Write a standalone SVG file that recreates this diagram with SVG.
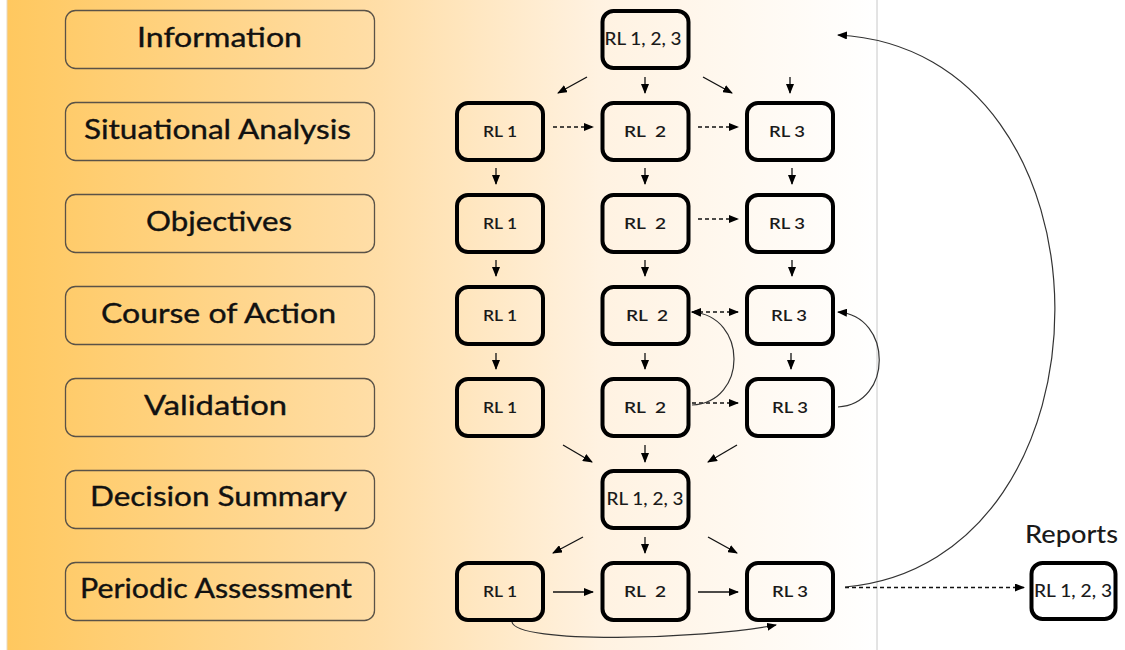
<svg xmlns="http://www.w3.org/2000/svg" width="1125" height="650" viewBox="0 0 1125 650">
<defs>
<linearGradient id="bg" x1="7" y1="0" x2="877" y2="0" gradientUnits="userSpaceOnUse">
<stop offset="0" stop-color="#FFC85F"/>
<stop offset="0.43" stop-color="#FFDEA8"/>
<stop offset="0.68" stop-color="#FFF2E1"/>
<stop offset="1" stop-color="#FFFFFF"/>
</linearGradient>
<marker id="ah" markerUnits="userSpaceOnUse" markerWidth="10" markerHeight="8" refX="9" refY="4" orient="auto">
<path d="M0,0 L10,4 L0,8 z" fill="#000"/>
</marker>
<marker id="ahs" markerUnits="userSpaceOnUse" markerWidth="10" markerHeight="8" refX="1" refY="4" orient="auto">
<path d="M10,0 L0,4 L10,8 z" fill="#000"/>
</marker>
</defs>
<style>
.lbl rect{fill:none;stroke:#5a5247;stroke-width:1.3}
.lbl text{font-family:Lato,"Open Sans",sans-serif;font-size:26px;fill:#111;text-anchor:middle;stroke:#111;stroke-width:0.35}
.rl rect{fill:none;stroke:#000;stroke-width:4}
.rl text{font-family:Lato,"Open Sans",sans-serif;font-size:16px;font-weight:600;fill:#1a1a1a;text-anchor:middle}
.rl text.big{font-size:17px;font-weight:500}
.c line,.c path{fill:none;stroke:#111;stroke-width:1.3;marker-end:url(#ah)}
.c .d{stroke-dasharray:4 3}
.c path{stroke:#333;stroke-width:1.2}
</style>
<rect x="0" y="0" width="1125" height="650" fill="#fff"/>
<rect x="7" y="0" width="870" height="650" fill="url(#bg)"/>
<line x1="7" y1="0" x2="7" y2="650" stroke="#e8d8c0" stroke-width="1"/>
<line x1="877" y1="0" x2="877" y2="650" stroke="#c8c8c8" stroke-width="1"/>

<g id="lbl-information" class="lbl"><rect x="65.5" y="10.5" width="309" height="58" rx="10"/><text x="219.5" y="47" textLength="165" lengthAdjust="spacingAndGlyphs">Information</text></g>
<g id="lbl-situational" class="lbl"><rect x="65.5" y="102.5" width="309" height="58" rx="10"/><text x="217.5" y="139" textLength="267" lengthAdjust="spacingAndGlyphs">Situational Analysis</text></g>
<g id="lbl-objectives" class="lbl"><rect x="65.5" y="194.5" width="309" height="58" rx="10"/><text x="219" y="231" textLength="146" lengthAdjust="spacingAndGlyphs">Objectives</text></g>
<g id="lbl-course" class="lbl"><rect x="65.5" y="286.5" width="309" height="58" rx="10"/><text x="218.5" y="323" textLength="235" lengthAdjust="spacingAndGlyphs">Course of Action</text></g>
<g id="lbl-validation" class="lbl"><rect x="65.5" y="378.5" width="309" height="58" rx="10"/><text x="215.5" y="415" textLength="143" lengthAdjust="spacingAndGlyphs">Validation</text></g>
<g id="lbl-decision" class="lbl"><rect x="65.5" y="470.5" width="309" height="58" rx="10"/><text x="218.5" y="506" textLength="257" lengthAdjust="spacingAndGlyphs">Decision Summary</text></g>
<g id="lbl-periodic" class="lbl"><rect x="65.5" y="562.5" width="309" height="58" rx="10"/><text x="216" y="598" textLength="272" lengthAdjust="spacingAndGlyphs">Periodic Assessment</text></g>

<g id="info-all" class="rl"><rect x="602.5" y="11" width="86" height="57" rx="11"/><text class="big" x="643" y="45" textLength="77" lengthAdjust="spacingAndGlyphs">RL 1, 2, 3</text></g>

<g id="sa-rl1" class="rl"><rect x="457" y="103" width="86" height="57" rx="11"/><text x="500" y="137" textLength="34" lengthAdjust="spacingAndGlyphs">RL 1</text></g>
<g id="sa-rl2" class="rl"><rect x="602.5" y="103" width="86" height="57" rx="11"/><text x="645" y="137" xml:space="preserve" textLength="42" lengthAdjust="spacingAndGlyphs">RL  2</text></g>
<g id="sa-rl3" class="rl"><rect x="747" y="103" width="86" height="57" rx="11"/><text x="787" y="137" textLength="36" lengthAdjust="spacingAndGlyphs">RL 3</text></g>

<g id="ob-rl1" class="rl"><rect x="457" y="195" width="86" height="57" rx="11"/><text x="500" y="229" textLength="34" lengthAdjust="spacingAndGlyphs">RL 1</text></g>
<g id="ob-rl2" class="rl"><rect x="602.5" y="195" width="86" height="57" rx="11"/><text x="645" y="229" xml:space="preserve" textLength="42" lengthAdjust="spacingAndGlyphs">RL  2</text></g>
<g id="ob-rl3" class="rl"><rect x="747" y="195" width="86" height="57" rx="11"/><text x="787" y="229" textLength="36" lengthAdjust="spacingAndGlyphs">RL 3</text></g>

<g id="ca-rl1" class="rl"><rect x="457" y="287" width="86" height="57" rx="11"/><text x="500" y="321" textLength="34" lengthAdjust="spacingAndGlyphs">RL 1</text></g>
<g id="ca-rl2" class="rl"><rect x="602.5" y="287" width="86" height="57" rx="11"/><text x="647" y="321" xml:space="preserve" textLength="42" lengthAdjust="spacingAndGlyphs">RL  2</text></g>
<g id="ca-rl3" class="rl"><rect x="747" y="287" width="86" height="57" rx="11"/><text x="789" y="321" textLength="36" lengthAdjust="spacingAndGlyphs">RL 3</text></g>

<g id="va-rl1" class="rl"><rect x="457" y="379" width="86" height="57" rx="11"/><text x="500" y="413" textLength="34" lengthAdjust="spacingAndGlyphs">RL 1</text></g>
<g id="va-rl2" class="rl"><rect x="602.5" y="379" width="86" height="57" rx="11"/><text x="645" y="413" xml:space="preserve" textLength="42" lengthAdjust="spacingAndGlyphs">RL  2</text></g>
<g id="va-rl3" class="rl"><rect x="747" y="379" width="86" height="57" rx="11"/><text x="790" y="413" textLength="36" lengthAdjust="spacingAndGlyphs">RL 3</text></g>

<g id="ds-all" class="rl"><rect x="602.5" y="471" width="86" height="57" rx="11"/><text class="big" x="645" y="505" textLength="77" lengthAdjust="spacingAndGlyphs">RL 1, 2, 3</text></g>

<g id="pa-rl1" class="rl"><rect x="457" y="563" width="86" height="57" rx="11"/><text x="500" y="597" textLength="34" lengthAdjust="spacingAndGlyphs">RL 1</text></g>
<g id="pa-rl2" class="rl"><rect x="602.5" y="563" width="86" height="57" rx="11"/><text x="645" y="597" xml:space="preserve" textLength="42" lengthAdjust="spacingAndGlyphs">RL  2</text></g>
<g id="pa-rl3" class="rl"><rect x="747" y="563" width="86" height="57" rx="11"/><text x="790" y="597" textLength="36" lengthAdjust="spacingAndGlyphs">RL 3</text></g>

<g id="reports" class="rl"><text x="1071.5" y="543" style="font-size:25px;font-weight:500" textLength="93" lengthAdjust="spacingAndGlyphs">Reports</text><rect x="1031.5" y="563" width="84" height="56" rx="11"/><text class="big" x="1073" y="597" textLength="78" lengthAdjust="spacingAndGlyphs">RL 1, 2, 3</text></g>

<g id="connectors" class="c">
<line x1="587" y1="77" x2="558" y2="93"/>
<line x1="645" y1="77" x2="645" y2="93"/>
<line x1="703" y1="77" x2="732" y2="93"/>
<line x1="790" y1="77" x2="790" y2="93"/>

<line class="d" x1="553" y1="127" x2="593" y2="127"/>
<line class="d" x1="698" y1="127" x2="738" y2="127"/>

<line x1="496" y1="168" x2="496" y2="184"/>
<line x1="645" y1="168" x2="645" y2="184"/>
<line x1="792" y1="168" x2="792" y2="184"/>

<line class="d" x1="698" y1="219" x2="738" y2="219"/>

<line x1="496" y1="260" x2="496" y2="276"/>
<line x1="645" y1="260" x2="645" y2="276"/>
<line x1="792" y1="260" x2="792" y2="276"/>

<line class="d" x1="692" y1="312" x2="738" y2="312" style="marker-start:url(#ahs)"/>

<line x1="496" y1="353" x2="496" y2="369"/>
<line x1="645" y1="353" x2="645" y2="369"/>
<line x1="791" y1="353" x2="791" y2="369"/>

<line class="d" x1="692" y1="403" x2="738" y2="403"/>

<path d="M692,405 C748,402 748,316 692,312"/>
<path d="M838,407 C893,404 893,316 838,312"/>

<line x1="563" y1="445" x2="592" y2="462"/>
<line x1="645" y1="445" x2="645" y2="462"/>
<line x1="737" y1="445" x2="708" y2="462"/>

<line x1="583" y1="537" x2="553" y2="553"/>
<line x1="645" y1="537" x2="645" y2="553"/>
<line x1="708" y1="537" x2="737" y2="553"/>

<line x1="553" y1="592" x2="593" y2="592"/>
<line x1="698" y1="592" x2="738" y2="592"/>

<path d="M512,622 C516,644 700,640 776,625"/>

<line class="d" x1="845" y1="587.5" x2="1024" y2="587.5"/>
<path d="M845,587 C1126,562 1126,50 838,35"/>
</g>
</svg>
